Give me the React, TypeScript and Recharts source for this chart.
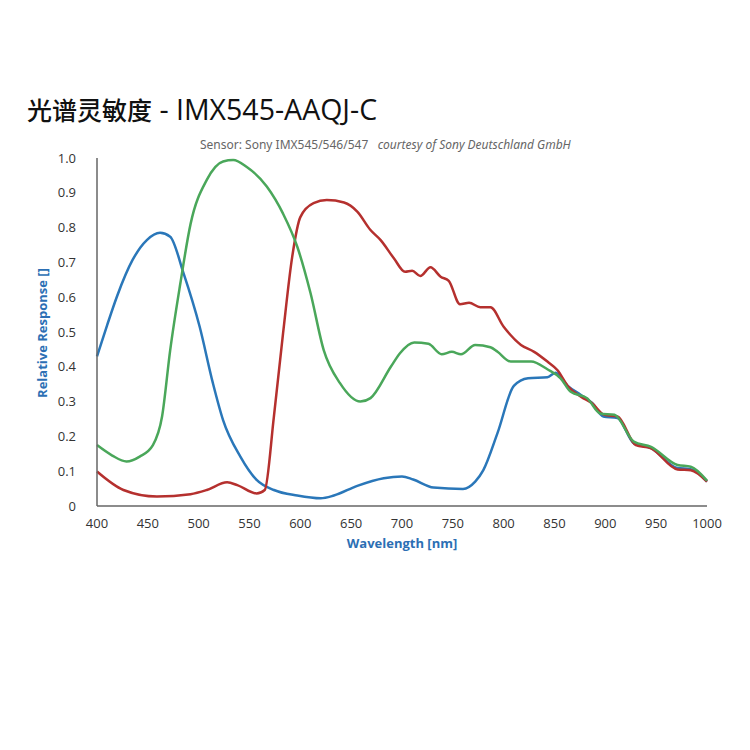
import React from 'react';
import { LineChart, Line, XAxis, YAxis, Label } from 'recharts';

const xTicks = [400, 450, 500, 550, 600, 650, 700, 750, 800, 850, 900, 950, 1000];
const yTicks = [0, 0.1, 0.2, 0.3, 0.4, 0.5, 0.6, 0.7, 0.8, 0.9, 1.0];

const blueNm = [400, 410, 420, 435, 449, 462, 472, 485, 501, 514, 524, 541, 557, 574, 597, 620, 633, 656, 682, 700, 711, 731, 760, 772, 780, 794, 810, 824, 843, 851, 863, 876, 887, 898, 912, 928, 945, 971, 984, 1000];
const blueVal = [0.43, 0.52, 0.605, 0.707, 0.764, 0.785, 0.774, 0.67, 0.515, 0.353, 0.247, 0.142, 0.075, 0.046, 0.03, 0.022, 0.03, 0.058, 0.08, 0.085, 0.076, 0.053, 0.049, 0.07, 0.103, 0.21, 0.345, 0.367, 0.37, 0.383, 0.345, 0.319, 0.296, 0.257, 0.253, 0.18, 0.166, 0.109, 0.106, 0.07];

const greenNm = [400, 415, 429, 442, 455, 464, 472, 482, 492, 508, 524, 534, 547, 567, 583, 597, 610, 623, 639, 659, 669, 689, 698, 712, 726, 739, 749, 758, 772, 787, 794, 807, 827, 843, 856, 866, 882, 895, 909, 928, 945, 971, 984, 1000];
const greenVal = [0.175, 0.145, 0.128, 0.142, 0.175, 0.257, 0.448, 0.64, 0.81, 0.937, 0.99, 0.994, 0.975, 0.918, 0.84, 0.745, 0.612, 0.448, 0.353, 0.3, 0.31, 0.4, 0.439, 0.47, 0.466, 0.436, 0.443, 0.436, 0.463, 0.456, 0.443, 0.415, 0.415, 0.393, 0.367, 0.328, 0.31, 0.266, 0.262, 0.185, 0.17, 0.118, 0.113, 0.073];

const redNm = [400, 426, 459, 492, 508, 528, 538, 557, 565, 574, 583, 592, 600, 613, 626, 643, 656, 669, 679, 692, 703, 710, 718, 728, 738, 746, 757, 766, 777, 787, 800, 817, 830, 843, 853, 863, 876, 887, 899, 912, 930, 945, 971, 984, 1000];
const redVal = [0.099, 0.046, 0.027, 0.034, 0.046, 0.068, 0.06, 0.036, 0.046, 0.257, 0.496, 0.716, 0.83, 0.87, 0.879, 0.872, 0.846, 0.793, 0.764, 0.712, 0.673, 0.676, 0.661, 0.686, 0.659, 0.647, 0.58, 0.584, 0.571, 0.571, 0.515, 0.463, 0.443, 0.415, 0.39, 0.345, 0.314, 0.295, 0.262, 0.257, 0.175, 0.166, 0.105, 0.103, 0.07];

const toRows = (nm: number[], v: number[]) => nm.map((n, i) => ({ nm: n, v: v[i] }));
const blueData = toRows(blueNm, blueVal);
const greenData = toRows(greenNm, greenVal);
const redData = toRows(redNm, redVal);

const BLUE = '#2a77b9';
const GREEN = '#4aa75a';
const RED = '#b5302e';
const LABEL_BLUE = '#2c6fb4';
const tickStyle = { fill: '#333', fontSize: 13, fontFamily: 'Open Sans' };

export default function App() {
  return (
    <div style={{ position: 'absolute', left: 0, top: 0, width: 750, height: 750, background: '#fff', overflow: 'hidden' }}>
      <div style={{ position: 'absolute', left: 27, top: 90, color: '#111', whiteSpace: 'nowrap', lineHeight: '38px' }}>
        <span style={{ fontFamily: '"Noto Sans CJK SC", sans-serif', fontSize: 25, fontWeight: 500 }}>光谱灵敏度</span>
        <span style={{ fontFamily: '"Open Sans", sans-serif', fontSize: 28.5 }}> - IMX545-AAQJ-C</span>
      </div>
      <div style={{ position: 'absolute', left: 200, top: 137, fontFamily: '"Noto Sans", sans-serif', fontSize: 12, color: '#666', whiteSpace: 'nowrap', lineHeight: '16px' }}>
        Sensor: Sony IMX545/546/547&nbsp;&nbsp;&nbsp;<span style={{ fontStyle: 'italic' }}>courtesy of Sony Deutschland GmbH</span>
      </div>
      <div style={{ position: 'absolute', left: 42, top: 333, transform: 'translate(-50%, -50%) rotate(-90deg)', fontFamily: '"Open Sans", sans-serif', fontWeight: 700, fontSize: 13, color: LABEL_BLUE, whiteSpace: 'nowrap' }}>
        Relative Response []
      </div>
      <LineChart width={750} height={750} margin={{ top: 158, right: 43, bottom: 214, left: 57 }}>
        <XAxis
          dataKey="nm"
          type="number"
          domain={[400, 1000]}
          ticks={xTicks}
          allowDuplicatedCategory={false}
          height={30}
          tickLine={false}
          tickSize={0}
          tickMargin={13}
          tick={tickStyle}
          axisLine={{ stroke: '#666', strokeWidth: 1.5 }}
        >
          <Label value="Wavelength [nm]" position="bottom" offset={3} style={{ fill: LABEL_BLUE, fontWeight: 700, fontSize: 13, fontFamily: 'Open Sans' }} />
        </XAxis>
        <YAxis
          type="number"
          domain={[0, 1]}
          ticks={yTicks}
          width={40}
          tickLine={false}
          tickSize={0}
          tickMargin={21}
          tick={tickStyle}
          tickFormatter={(v: number) => (v === 0 ? '0' : v.toFixed(1))}
          axisLine={{ stroke: '#666', strokeWidth: 1.5 }}
        />
        <Line data={blueData} dataKey="v" type="monotone" stroke={BLUE} strokeWidth={2.5} dot={false} isAnimationActive={false} />
        <Line data={redData} dataKey="v" type="monotone" stroke={RED} strokeWidth={2.5} dot={false} isAnimationActive={false} />
        <Line data={greenData} dataKey="v" type="monotone" stroke={GREEN} strokeWidth={2.5} dot={false} isAnimationActive={false} />
      </LineChart>
    </div>
  );
}
